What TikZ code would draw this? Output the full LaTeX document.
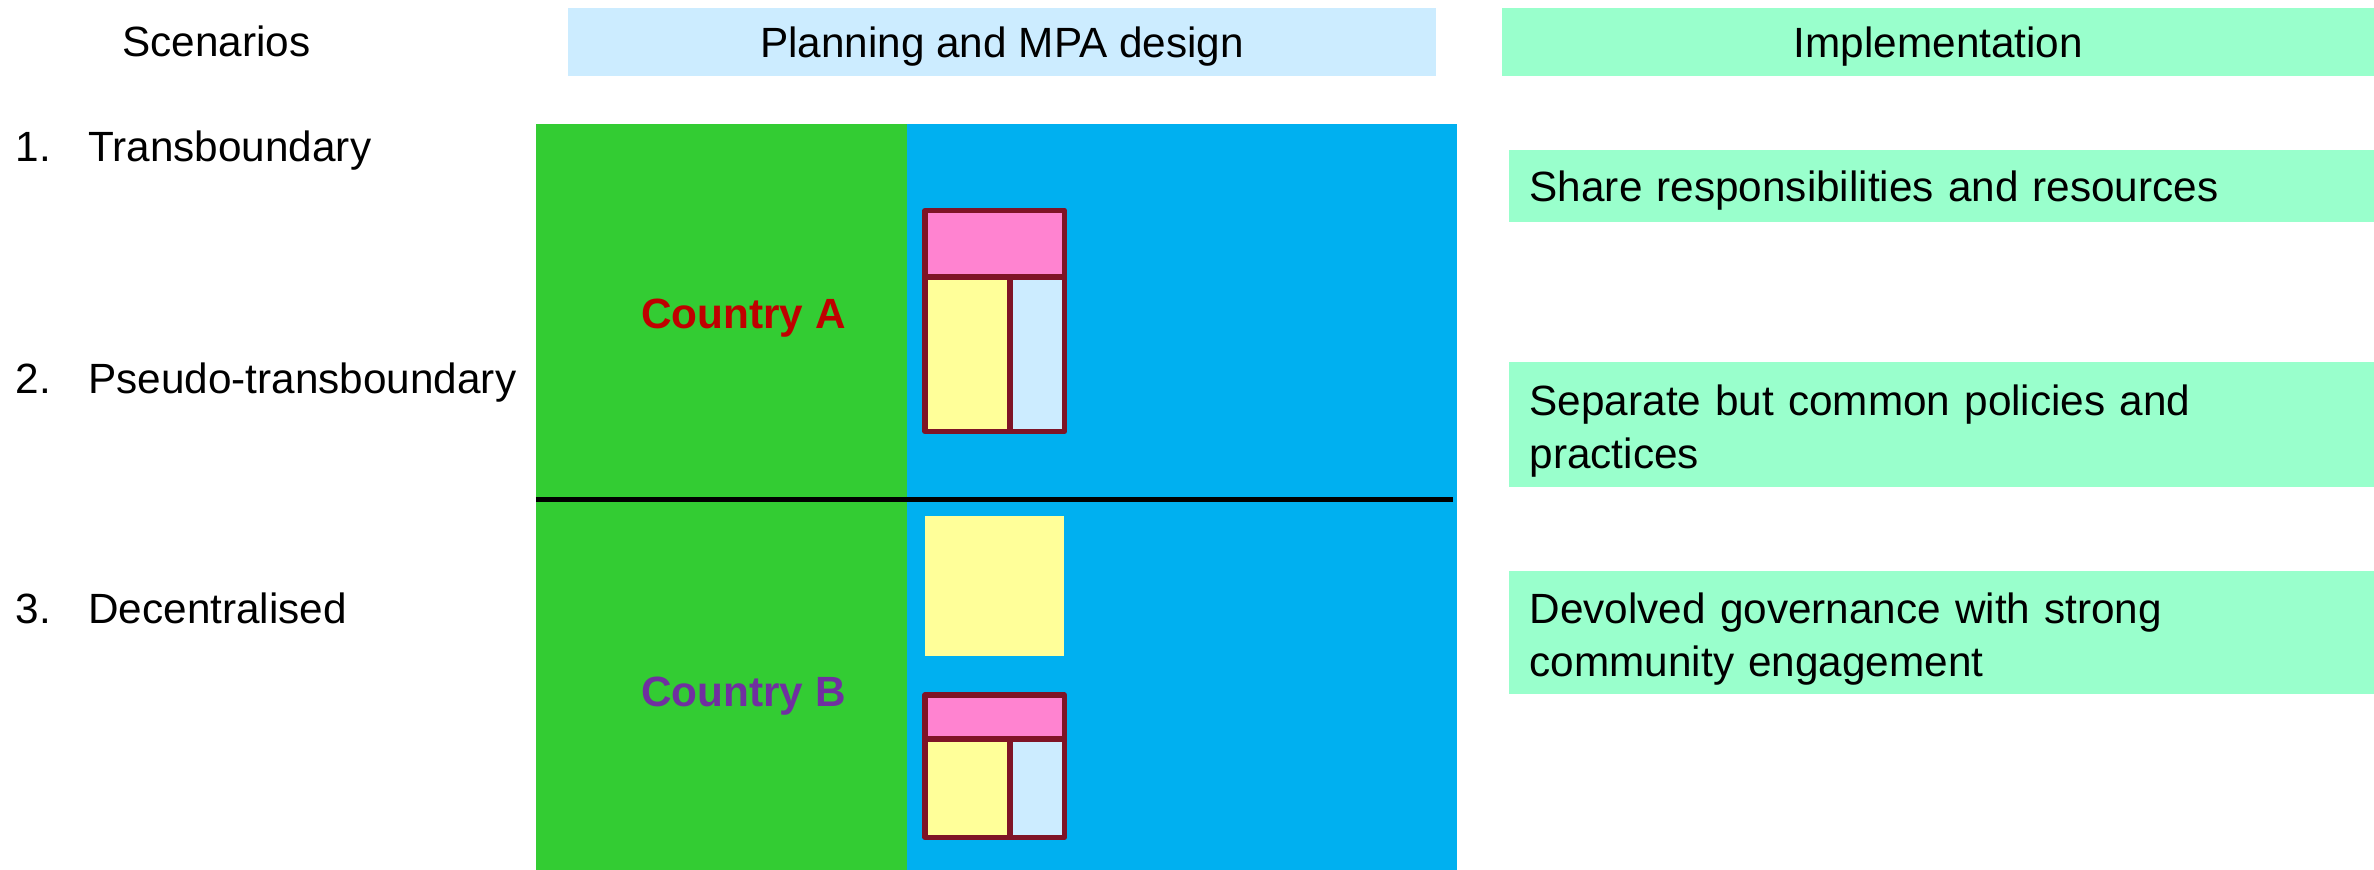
\documentclass[tikz,border=0pt]{standalone}
\usepackage{fontspec}
\setmainfont{Liberation Sans}
\definecolor{hdrblue}{HTML}{CCECFF}
\definecolor{hdrgreen}{HTML}{99FFCC}
\definecolor{landgreen}{HTML}{33CC33}
\definecolor{seablue}{HTML}{00B0F0}
\definecolor{zonerim}{HTML}{7F1426}
\definecolor{zonepink}{HTML}{FF83D0}
\definecolor{zoneyellow}{HTML}{FFFF99}
\definecolor{countrya}{HTML}{C00000}
\definecolor{countryb}{HTML}{7030A0}
\tikzset{
  txt/.style={inner sep=0pt, font=\fontsize{15.9}{19.8}\selectfont},
  hdrbox/.style={txt, anchor=north west, minimum height=0.9cm, text depth=0pt},
  implbox/.style={txt, anchor=north west, fill=hdrgreen, minimum width=11.44cm,
    text width=10.88cm, align=left, inner xsep=0.28cm, text depth=0pt},
  country/.style={txt, font=\fontsize{15.9}{19.8}\selectfont\bfseries, text depth=0pt}
}
\begin{document}
\begin{tikzpicture}[x=0.02cm, y=-0.02cm]
        \useasboundingbox (0,0) rectangle (1568,574.6);
        % column heads
        \node[txt, anchor=base] (scen) at (143,37) {Scenarios};
        \node[hdrbox, fill=hdrblue, minimum width=11.46cm] (plan) at (375,5) {Planning and MPA design};
        \node[hdrbox, fill=hdrgreen, minimum width=11.52cm] (impl) at (992,5) {Implementation};
        % scenarios
        \node[txt, anchor=base west] (n1) at (10,107) {1.};
        \node[txt, anchor=base west] (s1) at (58,107) {Transboundary};
        \node[txt, anchor=base west] (n2) at (10,260) {2.};
        \node[txt, anchor=base west] (s2) at (58,260) {Pseudo-transboundary};
        \node[txt, anchor=base west] (n3) at (10,412) {3.};
        \node[txt, anchor=base west] (s3) at (58,412) {Decentralised};
        % land and sea
        \fill[landgreen] (354,82) rectangle (599,574.6);
        \fill[seablue] (599,82) rectangle (962,574.6);
        \draw[line width=0.06cm] (354,330) -- (960,330);
        \node[country, text=countrya] (ctya) at (491,207) {Country A};
        \node[country, text=countryb] (ctyb) at (491,457) {Country B};
        % zoned MPAs
        \foreach \top/\mid/\bot in {139/183/285, 459/488/553} {
          \fill[zonepink] (611,\top) rectangle (703,\mid);
          \fill[zoneyellow] (611,\mid) rectangle (667,\bot);
          \fill[hdrblue] (667,\mid) rectangle (703,\bot);
          \draw[zonerim, line width=0.07cm, line join=round]
            (611,\top) rectangle (703,\bot) (611,\mid) -- (703,\mid) (667,\mid) -- (667,\bot);
        }
        \fill[zoneyellow] (611,341) rectangle (703,433);
        % implementation
        \node[implbox, minimum height=0.94cm] (share) at (996,99) {Share responsibilities and resources};
        \node[implbox, minimum height=1.64cm, text depth=18.2pt] (sep) at (996,239) {Separate but common policies and\\practices};
        \node[implbox, minimum height=1.62cm, text depth=18.2pt] (devo) at (996,377) {Devolved governance with strong\\community engagement};
\end{tikzpicture}
\end{document}
